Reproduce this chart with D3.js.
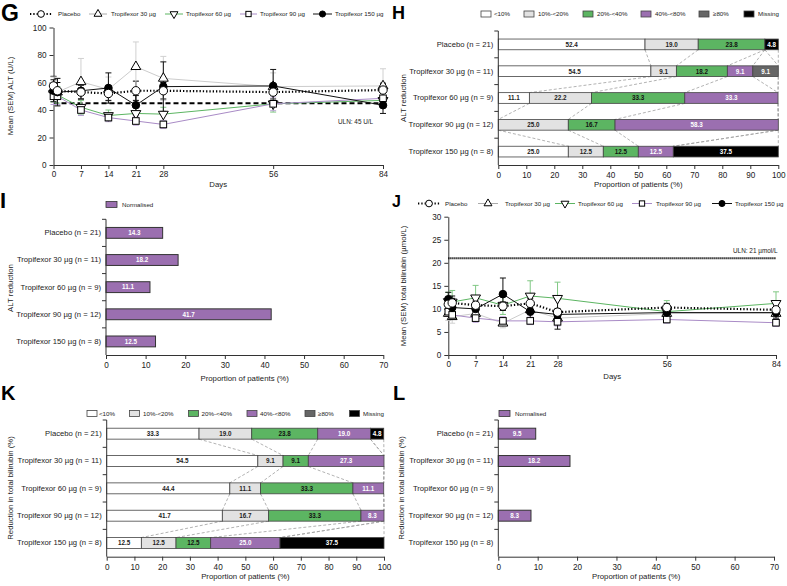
<!DOCTYPE html>
<html><head><meta charset="utf-8">
<script src="https://cdn.jsdelivr.net/npm/d3@7"></script>
<style>
body{margin:0;background:#fff;}
text{font-family:"Liberation Sans",Arial,Helvetica,sans-serif;}
</style>
</head><body>
<svg id="c" width="787" height="586"></svg>
<script>
// ---------------- DATA ----------------
const days = [0, 1, 7, 14, 21, 28, 56, 84];
const dayTicks = [0, 7, 14, 21, 28, 56, 84];
const seriesNames = ["Placebo", "Tropifexor 30 µg", "Tropifexor 60 µg", "Tropifexor 90 µg", "Tropifexor 150 µg"];

// Panel G: mean (SEM) ALT (U/L)
const altPlacebo = [57.5, 54, 53, 52, 54, 54, 53, 54.5];
const altT30     = [55, 53, 60.5, 55, 71.5, 63, 57, 57.5];
const altT60     = [52, 51, 42, 36, 37.5, 37, 44.5, 47];
const altT90     = [50, 50, 40, 34.5, 32, 29.5, 44.5, 48.5];
const altT150    = [54, 53, 54, 56, 43.5, 57, 57.5, 43.5];
const altPlaceboSem = [7, 6, 5, 5, 7, 6, 5, 5];
const altT30Sem     = [9, 10, 17, 9, 18, 16, 10, 12.5];
const altT60Sem     = [6, 6, 5, 4, 5, 5, 6, 5];
const altT90Sem     = [6, 6, 4, 3, 3, 3, 5, 4];
const altT150Sem    = [8, 10, 6, 11, 7, 18, 12, 6];
const altULN = 45;

// Panel J: mean (SEM) total bilirubin (µmol/L)
const biliPlacebo = [11.0, 11.3, 10.8, 10.6, 11.2, 9.3, 10.3, 9.8];
const biliT30     = [9.0, 8.3, 9.0, 6.9, 9.8, 8.0, 9.0, 9.0];
const biliT60     = [11.6, 11.5, 12.4, 10.8, 12.8, 12.3, 9.4, 11.2];
const biliT90     = [9.4, 8.7, 8.0, 7.4, 7.4, 7.2, 7.7, 7.0];
const biliT150    = [12.1, 10.3, 10.0, 13.2, 9.4, 8.8, 9.2, 9.2];
const biliPlaceboSem = [1.0, 1.0, 0.9, 0.9, 1.0, 0.8, 0.9, 0.8];
const biliT30Sem     = [1.5, 1.4, 1.5, 1.0, 1.2, 1.5, 1.0, 1.0];
const biliT60Sem     = [2.0, 2.5, 2.7, 2.0, 3.3, 3.5, 2.4, 2.5];
const biliT90Sem     = [1.0, 1.0, 0.9, 0.9, 0.8, 0.9, 0.8, 0.8];
const biliT150Sem    = [1.5, 2.5, 1.3, 3.5, 1.5, 3.2, 1.5, 1.2];
const biliULN = 21;

// Bar panels
const groups = ["Placebo (n = 21)", "Tropifexor 30 µg (n = 11)", "Tropifexor 60 µg (n = 9)", "Tropifexor 90 µg (n = 12)", "Tropifexor 150 µg (n = 8)"];
const bins = ["<10%", "10%-<20%", "20%-<40%", "40%-<80%", "≥80%", "Missing"];

// Panel H: ALT reduction (% of patients per bin)
const altRedPlacebo = [52.4, 19.0, 23.8, 0, 0, 4.8];
const altRedT30     = [54.5, 9.1, 18.2, 9.1, 9.1, 0];
const altRedT60     = [11.1, 22.2, 33.3, 33.3, 0, 0];
const altRedT90     = [0, 25.0, 16.7, 58.3, 0, 0];
const altRedT150    = [25.0, 12.5, 12.5, 12.5, 0, 37.5];

// Panel K: reduction in total bilirubin
const biliRedPlacebo = [33.3, 19.0, 23.8, 19.0, 0, 4.8];
const biliRedT30     = [54.5, 9.1, 9.1, 27.3, 0, 0];
const biliRedT60     = [44.4, 11.1, 33.3, 11.1, 0, 0];
const biliRedT90     = [41.7, 16.7, 33.3, 8.3, 0, 0];
const biliRedT150    = [12.5, 12.5, 12.5, 25.0, 0, 37.5];

// Panels I and L: normalised
const altNormalised  = [14.3, 18.2, 11.1, 41.7, 12.5];
const biliNormalised = [9.5, 18.2, 0, 8.3, 0];

// ---------------- STYLES ----------------
const FS = 7.8;      // general text size
const CFS = 7.7;     // category label size
const LFS = 6.2;     // legend text size
const binColors = ["#ffffff", "#e2e2e2", "#5cb562", "#9b6fb0", "#666666", "#000000"];
const binText   = ["#222", "#222", "#111", "#fff", "#fff", "#fff"];
const seriesStyle = [
  {color: "#000", width: 2.2, dash: "1.3,2", marker: "circle", fill: "#fff", err: "#000", r: 4.2},
  {color: "#cccccc", width: 1, dash: null, marker: "triangle", fill: "#fff", err: "#d0d0d0"},
  {color: "#5cb562", width: 1, dash: null, marker: "triangleDown", fill: "#fff", err: "#80c884"},
  {color: "#a98bc6", width: 1, dash: null, marker: "square", fill: "#fff", err: "#b9a0d2"},
  {color: "#111", width: 1, dash: null, marker: "circle", fill: "#000", err: "#111", r: 3.8}
];

const svg = d3.select("#c");

function styleAxis(g, fs) {
  g.selectAll("path,line").attr("stroke", "#333").attr("stroke-width", 1);
  g.selectAll("text").attr("font-size", fs || 8.2).attr("fill", "#222")
    .attr("font-family", "'Liberation Sans', Arial, sans-serif");
}

function drawMarker(g, type, cx, cy, fill, r, k) {
  k = k || 1;
  const sw = 1;
  if (type === "circle") {
    g.append("circle").attr("cx", cx).attr("cy", cy).attr("r", (r || 4) * k)
      .attr("fill", fill).attr("stroke", "#000").attr("stroke-width", sw);
  } else if (type === "square") {
    const h = 3.3 * k;
    g.append("rect").attr("x", cx - h).attr("y", cy - h).attr("width", 2 * h).attr("height", 2 * h)
      .attr("fill", fill).attr("stroke", "#000").attr("stroke-width", sw);
  } else {
    const rot = type === "triangleDown" ? 180 : 0;
    g.append("path").attr("d", d3.symbol(d3.symbolTriangle).size(42 * k * k)())
      .attr("transform", `translate(${cx},${cy}) rotate(${rot})`)
      .attr("fill", fill).attr("stroke", "#000").attr("stroke-width", sw);
  }
}

function panelLetter(t, x, y, fs) {
  svg.append("text").attr("x", x).attr("y", y).attr("font-size", fs).attr("font-weight", "bold")
    .attr("fill", "#000").text(t);
}

function rotLabel(t, x, y) {
  svg.append("text").attr("transform", `translate(${x},${y}) rotate(-90)`).attr("text-anchor", "middle")
    .attr("font-size", FS).attr("fill", "#222").text(t);
}

// ---------------- LINE PANELS ----------------
function linePanel(o) {
  const x = d3.scaleLinear().domain([0, 84]).range([o.x0, o.x1]);
  const y = d3.scaleLinear().domain([0, o.ymax]).range([o.yb, o.yt]);
  const g = svg.append("g");

  const gx = g.append("g").attr("transform", `translate(0,${o.yb})`)
    .call(d3.axisBottom(x).tickValues(dayTicks).tickSize(4).tickPadding(2).tickSizeOuter(0));
  styleAxis(gx);
  const gy = g.append("g").attr("transform", `translate(${o.x0},0)`)
    .call(d3.axisLeft(y).tickValues(o.yticks).tickSize(4).tickPadding(3).tickSizeOuter(0));
  styleAxis(gy);

  g.append("text").attr("x", (o.x0 + o.x1) / 2).attr("y", o.daysY).attr("text-anchor", "middle")
    .attr("font-size", FS).attr("fill", "#222").text("Days");

  // ULN line
  g.append("line").attr("x1", o.x0).attr("x2", o.x1).attr("y1", y(o.uln)).attr("y2", y(o.uln))
    .attr("stroke", "#000").attr("stroke-width", 2).attr("stroke-dasharray", o.ulnDash);
  g.append("text").attr("x", o.ulnX).attr("y", o.ulnY).attr("font-size", 6.4).attr("fill", "#222").text(o.ulnText);

  const line = d3.line().x((d, i) => x(days[i])).y(d => y(d));

  // error bars
  o.means.forEach((m, s) => {
    const st = seriesStyle[s];
    m.forEach((v, i) => {
      const cx = x(days[i]), lo = y(v - o.sems[s][i]), hi = y(v + o.sems[s][i]);
      g.append("line").attr("x1", cx).attr("x2", cx).attr("y1", lo).attr("y2", hi)
        .attr("stroke", st.err).attr("stroke-width", 1);
      [lo, hi].forEach(yy => g.append("line").attr("x1", cx - 3).attr("x2", cx + 3).attr("y1", yy).attr("y2", yy)
        .attr("stroke", st.err).attr("stroke-width", 1));
    });
  });
  // lines (placebo last)
  [1, 2, 3, 4, 0].forEach(s => {
    const st = seriesStyle[s];
    g.append("path").attr("d", line(o.means[s])).attr("fill", "none").attr("stroke", st.color)
      .attr("stroke-width", st.width).attr("stroke-dasharray", st.dash);
  });
  // markers
  [1, 2, 3, 4, 0].forEach(s => {
    const st = seriesStyle[s];
    o.means[s].forEach((v, i) => drawMarker(g, st.marker, x(days[i]), y(v), st.fill, st.r));
  });

  // legend
  o.legend.forEach((p, s) => {
    const st = seriesStyle[s];
    g.append("line").attr("x1", p[0]).attr("x2", p[1]).attr("y1", o.legY).attr("y2", o.legY)
      .attr("stroke", s === 1 ? "#aaa" : st.color).attr("stroke-width", st.width).attr("stroke-dasharray", st.dash);
    drawMarker(g, st.marker, (p[0] + p[1]) / 2, o.legY, st.fill, st.r, 0.8);
    g.append("text").attr("x", p[2]).attr("y", o.legY + 2.2).attr("font-size", LFS).attr("fill", "#222")
      .text(seriesNames[s]);
  });
}

// ---------------- BAR PANELS ----------------
function barAxes(o, xs, yb) {
  const g = svg.append("g");
  const gx = g.append("g").attr("transform", `translate(0,${o.yb})`)
    .call(d3.axisBottom(xs).ticks(o.xmax / 10).tickSize(4).tickPadding(3).tickSizeOuter(0));
  styleAxis(gx);
  const gy = g.append("g").attr("transform", `translate(${o.x0},0)`)
    .call(d3.axisLeft(yb).tickSize(0).tickPadding(5));
  styleAxis(gy, CFS);
  gy.select(".domain").attr("d", `M0,${o.yt}V${o.yb}`);
  // ticks at category boundaries
  for (let i = 0; i < groups.length; i++) {
    const yy = o.yt + i * yb.step();
    g.append("line").attr("x1", o.x0 - 4).attr("x2", o.x0).attr("y1", yy).attr("y2", yy)
      .attr("stroke", "#333").attr("stroke-width", 1);
  }
  g.append("text").attr("x", (o.x0 + o.x1) / 2).attr("y", o.labY).attr("text-anchor", "middle")
    .attr("font-size", FS).attr("fill", "#222").text("Proportion of patients (%)");
  return g;
}

function stackPanel(o) {
  const xs = d3.scaleLinear().domain([0, 100]).range([o.x0, o.x1]);
  const yb = d3.scaleBand().domain(groups).range([o.yt, o.yb]).paddingInner(0.6).paddingOuter(0.3);
  const rows = groups.map((gname, i) => {
    const r = {group: gname};
    bins.forEach((b, j) => r[b] = o.vals[i][j]);
    return r;
  });
  const stacked = d3.stack().keys(bins)(rows);
  const g = svg.append("g");
  // connectors
  stacked.forEach(layer => {
    for (let i = 0; i < groups.length - 1; i++) {
      g.append("line")
        .attr("x1", xs(layer[i][1])).attr("y1", yb(groups[i]) + yb.bandwidth())
        .attr("x2", xs(layer[i + 1][1])).attr("y2", yb(groups[i + 1]))
        .attr("stroke", "#a0a0a0").attr("stroke-width", 0.8).attr("stroke-dasharray", "3,2");
    }
  });
  stacked.forEach((layer, j) => {
    layer.forEach((d, i) => {
      const w = xs(d[1]) - xs(d[0]);
      if (w <= 0) return;
      g.append("rect").attr("x", xs(d[0])).attr("y", yb(groups[i])).attr("width", w).attr("height", yb.bandwidth())
        .attr("fill", binColors[j]).attr("stroke", "#444").attr("stroke-width", 0.8);
      g.append("text").attr("x", xs((d[0] + d[1]) / 2)).attr("y", yb(groups[i]) + yb.bandwidth() / 2 + 2.3)
        .attr("text-anchor", "middle").attr("font-size", 6.3).attr("font-weight", "bold")
        .attr("fill", binText[j]).text(d.data[bins[j]].toFixed(1));
    });
  });
  barAxes(Object.assign({xmax: 100}, o), xs, yb);
  // legend
  bins.forEach((b, j) => {
    const p = o.legend[j];
    svg.append("rect").attr("x", p[0]).attr("y", o.legY - 3).attr("width", 10).attr("height", 6)
      .attr("fill", binColors[j]).attr("stroke", "#444").attr("stroke-width", 0.8);
    svg.append("text").attr("x", p[1]).attr("y", o.legY + 2.2).attr("font-size", LFS).attr("fill", "#222").text(b);
  });
}

function normPanel(o) {
  const xs = d3.scaleLinear().domain([0, 70]).range([o.x0, o.x1]);
  const yb = d3.scaleBand().domain(groups).range([o.yt, o.yb]).paddingInner(0.6).paddingOuter(0.3);
  const g = svg.append("g");
  o.vals.forEach((v, i) => {
    if (!v) return;
    g.append("rect").attr("x", xs(0)).attr("y", yb(groups[i])).attr("width", xs(v) - xs(0)).attr("height", yb.bandwidth())
      .attr("fill", "#9b6fb0").attr("stroke", "#333").attr("stroke-width", 1);
    g.append("text").attr("x", xs(v / 2)).attr("y", yb(groups[i]) + yb.bandwidth() / 2 + 2.3)
      .attr("text-anchor", "middle").attr("font-size", 6.3).attr("font-weight", "bold").attr("fill", "#fff")
      .text(v.toFixed(1));
  });
  barAxes(Object.assign({xmax: 70}, o), xs, yb);
  svg.append("rect").attr("x", o.legX).attr("y", o.legY - 3).attr("width", 11).attr("height", 6)
    .attr("fill", "#9b6fb0").attr("stroke", "#333").attr("stroke-width", 0.8);
  svg.append("text").attr("x", o.legX + 16).attr("y", o.legY + 2.2).attr("font-size", LFS).attr("fill", "#222").text("Normalised");
}

// ---------------- DRAW ----------------
// G
panelLetter("G", 1, 21, 23);
linePanel({
  x0: 53.5, x1: 383, yt: 27.5, yb: 165, ymax: 100, yticks: [0, 20, 40, 60, 80, 100], daysY: 187,
  means: [altPlacebo, altT30, altT60, altT90, altT150],
  sems: [altPlaceboSem, altT30Sem, altT60Sem, altT90Sem, altT150Sem],
  uln: altULN, ulnDash: "5,3", ulnText: "ULN: 45 U/L", ulnX: 338, ulnY: 124,
  legY: 14, legend: [[30, 52, 58], [89, 107, 111], [165, 183, 186], [240, 257, 260], [313, 332, 335]]
});
rotLabel("Mean (SEM) ALT (U/L)", 13, 96);

// H
panelLetter("H", 392, 19, 18);
stackPanel({
  x0: 498.3, x1: 778.3, yt: 31, yb: 165, labY: 187, vals: [altRedPlacebo, altRedT30, altRedT60, altRedT90, altRedT150],
  legY: 14, legend: [[481, 494], [524, 538], [583, 597], [641, 655], [699, 713], [744, 758]]
});
rotLabel("ALT reduction", 406, 98);

// I
panelLetter("I", 0, 208, 22);
normPanel({
  x0: 106, x1: 383.3, yt: 219.3, yb: 355, labY: 381, vals: altNormalised, legX: 106, legY: 204.5
});
rotLabel("ALT reduction", 12.5, 288);

// J
panelLetter("J", 392, 207, 16);
linePanel({
  x0: 448.3, x1: 776, yt: 216.7, yb: 355, ymax: 30, yticks: [0, 5, 10, 15, 20, 25, 30], daysY: 379,
  means: [biliPlacebo, biliT30, biliT60, biliT90, biliT150],
  sems: [biliPlaceboSem, biliT30Sem, biliT60Sem, biliT90Sem, biliT150Sem],
  uln: biliULN, ulnDash: "1.2,0.8", ulnText: "ULN: 21 µmol/L", ulnX: 733, ulnY: 253,
  legY: 203.5, legend: [[418, 440, 445], [478, 498, 505], [555, 575, 578], [632, 652, 656], [712, 732, 735]]
});
rotLabel("Mean (SEM) total bilirubin (µmol/L)", 406, 286);

// K
panelLetter("K", 1, 400, 20);
stackPanel({
  x0: 106.7, x1: 384, yt: 420, yb: 556.7, labY: 579, vals: [biliRedPlacebo, biliRedT30, biliRedT60, biliRedT90, biliRedT150],
  legY: 413.5, legend: [[87, 99], [129.5, 143], [188.5, 201.5], [247, 260], [305, 318], [349.5, 363]]
});
rotLabel("Reduction in total bilirubin (%)", 12.5, 488);

// L
panelLetter("L", 393, 400, 20);
normPanel({
  x0: 498.3, x1: 774, yt: 420, yb: 556.7, labY: 579, vals: biliNormalised, legX: 499, legY: 413.5
});
rotLabel("Reduction in total bilirubin (%)", 404, 488);
</script>
</body></html>
